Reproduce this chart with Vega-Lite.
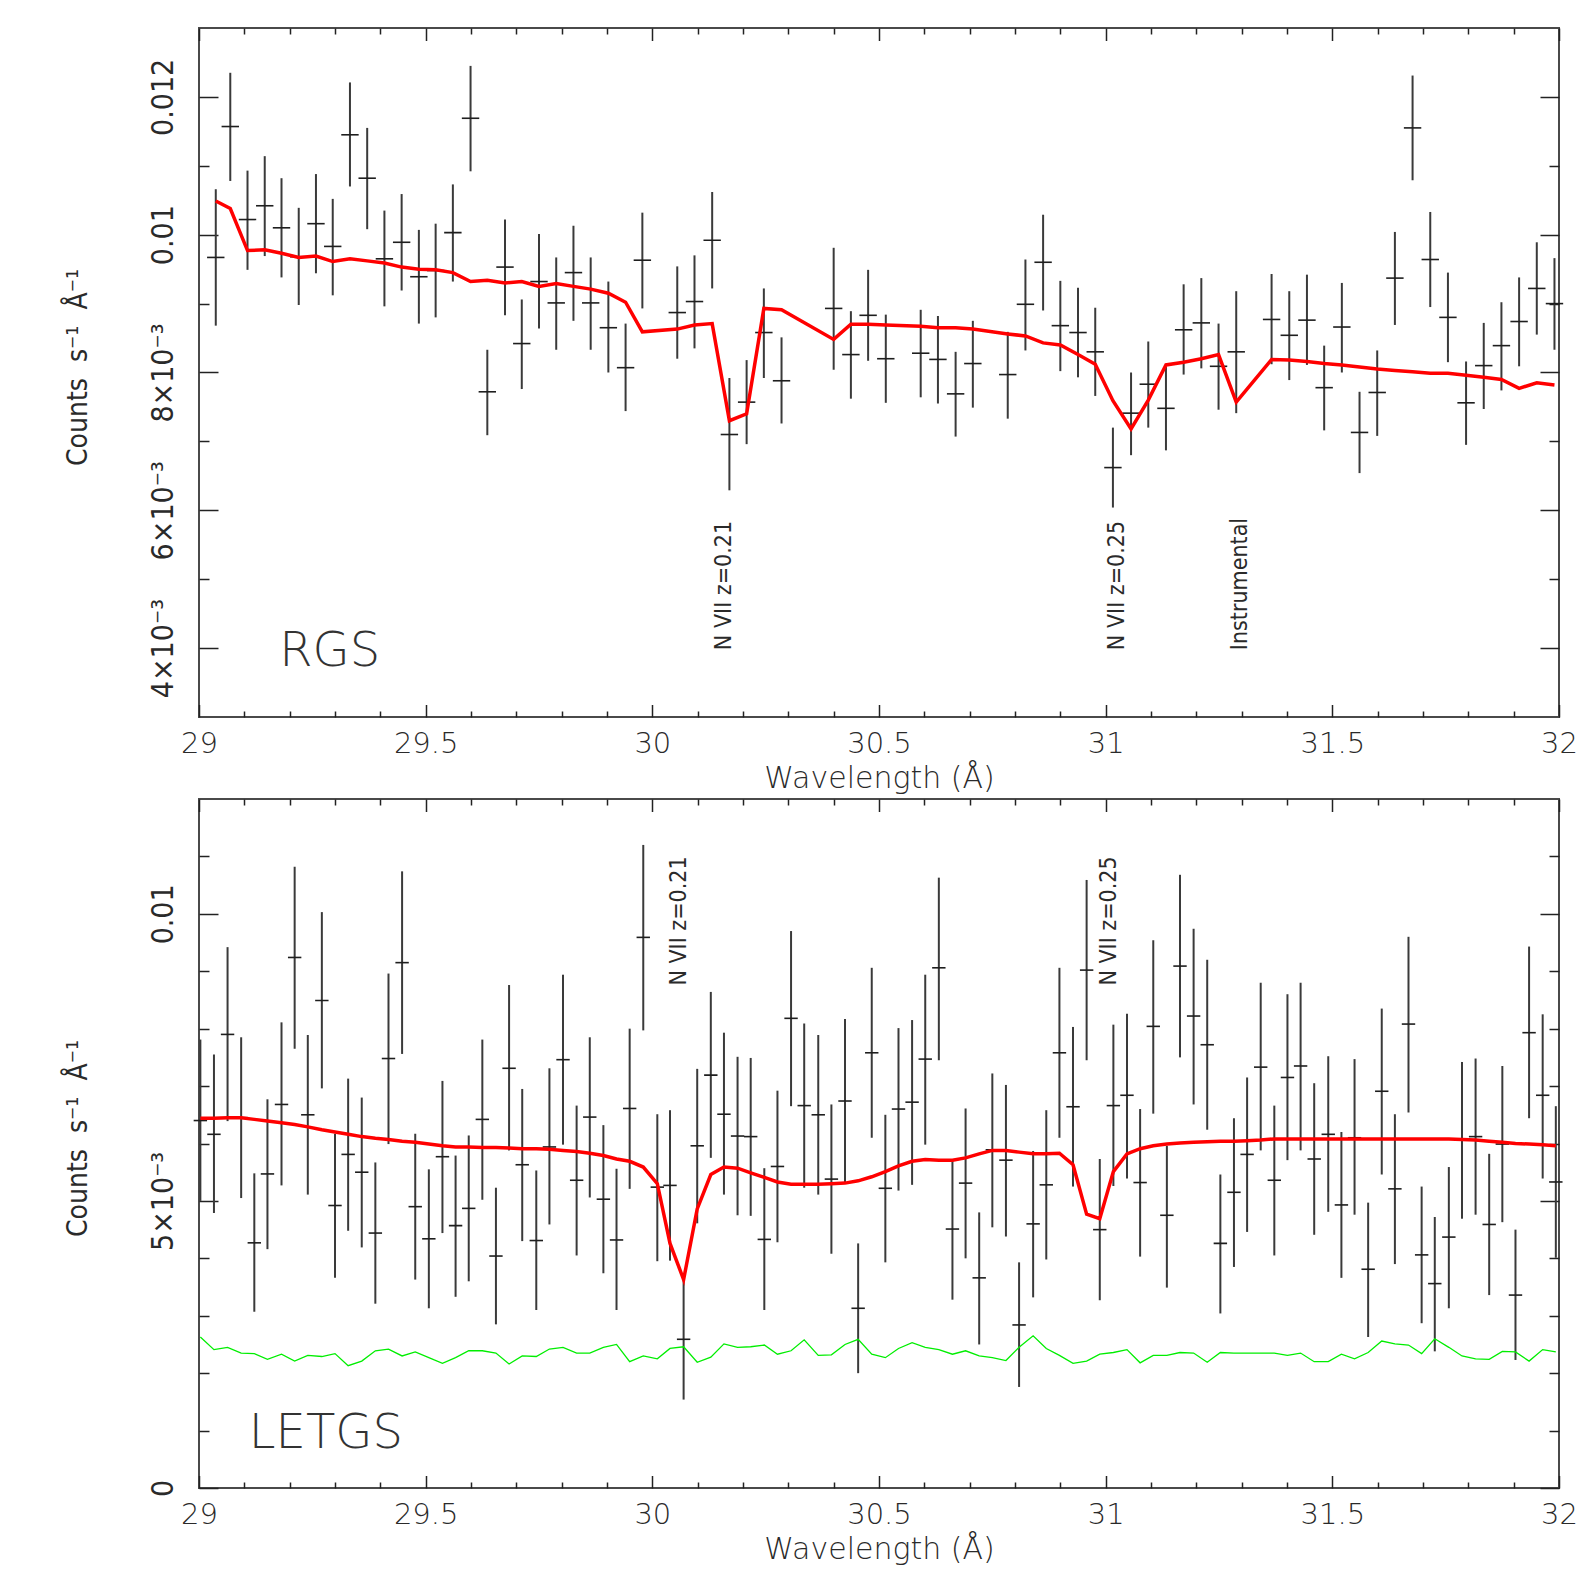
{
"$schema": "https://vega.github.io/schema/vega-lite/v6.json",
"padding": {"left": 63, "top": 26, "right": 5, "bottom": 5},
"autosize": {"type": "pad"},
"background": "white",
"bounds": "flush",
"spacing": 82,
"config": {
  "view": {"stroke": "#4a4a4a", "strokeWidth": 2},
  "axis": {"domain": false, "grid": false, "tickColor": "#222", "tickWidth": 1.5, "labelColor": "#2a2a2a", "titleColor": "#2a2a2a", "labelFlush": false, "labelOverlap": false, "labelBound": false}
},
"datasets": {
"rgs": [
{"x":29.037,"y":0.00967,"lo":0.00868,"hi":0.01066,"m":0.01049},
{"x":29.069,"y":0.01157,"lo":0.01078,"hi":0.01235,"m":0.01038},
{"x":29.107,"y":0.01022,"lo":0.00949,"hi":0.01093,"m":0.00977},
{"x":29.145,"y":0.01042,"lo":0.00969,"hi":0.01114,"m":0.00978},
{"x":29.182,"y":0.01010,"lo":0.00938,"hi":0.01082,"m":0.00973},
{"x":29.220,"y":0.00968,"lo":0.00898,"hi":0.01039,"m":0.00967},
{"x":29.258,"y":0.01016,"lo":0.00944,"hi":0.01088,"m":0.00969},
{"x":29.295,"y":0.00983,"lo":0.00912,"hi":0.01052,"m":0.00961},
{"x":29.333,"y":0.01145,"lo":0.01070,"hi":0.01221,"m":0.00965},
{"x":29.371,"y":0.01082,"lo":0.01008,"hi":0.01155,"m":0.00962},
{"x":29.409,"y":0.00965,"lo":0.00896,"hi":0.01035,"m":0.00959},
{"x":29.447,"y":0.00989,"lo":0.00919,"hi":0.01059,"m":0.00953},
{"x":29.485,"y":0.00939,"lo":0.00871,"hi":0.01007,"m":0.00950},
{"x":29.522,"y":0.00948,"lo":0.00880,"hi":0.01016,"m":0.00949},
{"x":29.560,"y":0.01003,"lo":0.00932,"hi":0.01073,"m":0.00945},
{"x":29.599,"y":0.01169,"lo":0.01092,"hi":0.01245,"m":0.00932},
{"x":29.636,"y":0.00772,"lo":0.00709,"hi":0.00833,"m":0.00934},
{"x":29.675,"y":0.00953,"lo":0.00883,"hi":0.01022,"m":0.00930},
{"x":29.712,"y":0.00842,"lo":0.00776,"hi":0.00906,"m":0.00932},
{"x":29.750,"y":0.00932,"lo":0.00864,"hi":0.01001,"m":0.00925},
{"x":29.788,"y":0.00901,"lo":0.00833,"hi":0.00967,"m":0.00929},
{"x":29.826,"y":0.00945,"lo":0.00875,"hi":0.01013,"m":0.00925},
{"x":29.864,"y":0.00901,"lo":0.00833,"hi":0.00967,"m":0.00921},
{"x":29.903,"y":0.00865,"lo":0.00800,"hi":0.00932,"m":0.00915},
{"x":29.941,"y":0.00807,"lo":0.00744,"hi":0.00871,"m":0.00902},
{"x":29.978,"y":0.00963,"lo":0.00893,"hi":0.01032,"m":0.00859},
{"x":30.055,"y":0.00887,"lo":0.00820,"hi":0.00954,"m":0.00863},
{"x":30.093,"y":0.00903,"lo":0.00835,"hi":0.00970,"m":0.00869},
{"x":30.132,"y":0.00992,"lo":0.00922,"hi":0.01062,"m":0.00871},
{"x":30.170,"y":0.00710,"lo":0.00629,"hi":0.00792,"m":0.00730},
{"x":30.208,"y":0.00757,"lo":0.00696,"hi":0.00818,"m":0.00740},
{"x":30.246,"y":0.00858,"lo":0.00792,"hi":0.00922,"m":0.00893},
{"x":30.285,"y":0.00788,"lo":0.00726,"hi":0.00851,"m":0.00891},
{"x":30.400,"y":0.00893,"lo":0.00804,"hi":0.00981,"m":0.00848},
{"x":30.438,"y":0.00826,"lo":0.00762,"hi":0.00889,"m":0.00870},
{"x":30.476,"y":0.00883,"lo":0.00817,"hi":0.00949,"m":0.00870},
{"x":30.515,"y":0.00820,"lo":0.00756,"hi":0.00884,"m":0.00869},
{"x":30.592,"y":0.00828,"lo":0.00764,"hi":0.00891,"m":0.00867},
{"x":30.630,"y":0.00819,"lo":0.00755,"hi":0.00882,"m":0.00865},
{"x":30.669,"y":0.00769,"lo":0.00707,"hi":0.00830,"m":0.00865},
{"x":30.707,"y":0.00813,"lo":0.00749,"hi":0.00875,"m":0.00863},
{"x":30.784,"y":0.00797,"lo":0.00733,"hi":0.00859,"m":0.00856},
{"x":30.823,"y":0.00899,"lo":0.00832,"hi":0.00964,"m":0.00853},
{"x":30.862,"y":0.00960,"lo":0.00890,"hi":0.01029,"m":0.00843},
{"x":30.900,"y":0.00868,"lo":0.00802,"hi":0.00933,"m":0.00840},
{"x":30.939,"y":0.00858,"lo":0.00793,"hi":0.00923,"m":0.00826},
{"x":30.977,"y":0.00830,"lo":0.00766,"hi":0.00894,"m":0.00812},
{"x":31.016,"y":0.00662,"lo":0.00604,"hi":0.00720,"m":0.00759},
{"x":31.056,"y":0.00741,"lo":0.00680,"hi":0.00800,"m":0.00718},
{"x":31.094,"y":0.00783,"lo":0.00720,"hi":0.00845,"m":0.00760},
{"x":31.133,"y":0.00748,"lo":0.00687,"hi":0.00808,"m":0.00811},
{"x":31.172,"y":0.00862,"lo":0.00797,"hi":0.00928,"m":0.00815},
{"x":31.211,"y":0.00872,"lo":0.00806,"hi":0.00937,"m":0.00820},
{"x":31.249,"y":0.00809,"lo":0.00746,"hi":0.00871,"m":0.00826},
{"x":31.288,"y":0.00830,"lo":0.00741,"hi":0.00918,"m":0.00757},
{"x":31.366,"y":0.00877,"lo":0.00812,"hi":0.00943,"m":0.00819},
{"x":31.405,"y":0.00854,"lo":0.00789,"hi":0.00918,"m":0.00818},
{"x":31.444,"y":0.00876,"lo":0.00811,"hi":0.00942,"m":0.00816},
{"x":31.482,"y":0.00778,"lo":0.00716,"hi":0.00839,"m":0.00813},
{"x":31.521,"y":0.00866,"lo":0.00800,"hi":0.00930,"m":0.00811},
{"x":31.560,"y":0.00713,"lo":0.00654,"hi":0.00772,"m":0.00808},
{"x":31.599,"y":0.00771,"lo":0.00708,"hi":0.00832,"m":0.00805},
{"x":31.638,"y":0.00937,"lo":0.00869,"hi":0.01004,"m":0.00803},
{"x":31.677,"y":0.01155,"lo":0.01079,"hi":0.01231,"m":0.00801},
{"x":31.716,"y":0.00964,"lo":0.00895,"hi":0.01033,"m":0.00799},
{"x":31.755,"y":0.00880,"lo":0.00815,"hi":0.00945,"m":0.00799},
{"x":31.795,"y":0.00756,"lo":0.00695,"hi":0.00816,"m":0.00796},
{"x":31.834,"y":0.00810,"lo":0.00747,"hi":0.00872,"m":0.00793},
{"x":31.873,"y":0.00839,"lo":0.00774,"hi":0.00902,"m":0.00790},
{"x":31.912,"y":0.00874,"lo":0.00809,"hi":0.00938,"m":0.00777},
{"x":31.951,"y":0.00922,"lo":0.00855,"hi":0.00989,"m":0.00785},
{"x":31.990,"y":0.00900,"lo":0.00833,"hi":0.00966,"m":0.00782}
],
"letgs": [
{"x":29.003,"y":0.00640,"lo":0.00500,"hi":0.00781,"m":0.00644,"bg":0.00263},
{"x":29.033,"y":0.00616,"lo":0.00479,"hi":0.00755,"m":0.00644,"bg":0.00241},
{"x":29.063,"y":0.00790,"lo":0.00639,"hi":0.00942,"m":0.00645,"bg":0.00245},
{"x":29.093,"y":0.00645,"lo":0.00505,"hi":0.00785,"m":0.00645,"bg":0.00235},
{"x":29.122,"y":0.00427,"lo":0.00307,"hi":0.00548,"m":0.00642,"bg":0.00234},
{"x":29.151,"y":0.00547,"lo":0.00416,"hi":0.00677,"m":0.00639,"bg":0.00224},
{"x":29.182,"y":0.00668,"lo":0.00527,"hi":0.00811,"m":0.00636,"bg":0.00233},
{"x":29.211,"y":0.00924,"lo":0.00765,"hi":0.01082,"m":0.00633,"bg":0.00221},
{"x":29.240,"y":0.00650,"lo":0.00511,"hi":0.00789,"m":0.00629,"bg":0.00231},
{"x":29.271,"y":0.00849,"lo":0.00696,"hi":0.01003,"m":0.00624,"bg":0.00229},
{"x":29.300,"y":0.00492,"lo":0.00366,"hi":0.00617,"m":0.00620,"bg":0.00234},
{"x":29.329,"y":0.00581,"lo":0.00448,"hi":0.00713,"m":0.00616,"bg":0.00213},
{"x":29.359,"y":0.00550,"lo":0.00419,"hi":0.00680,"m":0.00612,"bg":0.00221},
{"x":29.389,"y":0.00444,"lo":0.00321,"hi":0.00567,"m":0.00609,"bg":0.00239},
{"x":29.418,"y":0.00748,"lo":0.00599,"hi":0.00896,"m":0.00607,"bg":0.00242},
{"x":29.448,"y":0.00915,"lo":0.00756,"hi":0.01074,"m":0.00604,"bg":0.00230},
{"x":29.477,"y":0.00490,"lo":0.00363,"hi":0.00617,"m":0.00602,"bg":0.00237},
{"x":29.507,"y":0.00434,"lo":0.00313,"hi":0.00555,"m":0.00599,"bg":0.00227},
{"x":29.537,"y":0.00577,"lo":0.00444,"hi":0.00709,"m":0.00596,"bg":0.00217},
{"x":29.566,"y":0.00457,"lo":0.00333,"hi":0.00579,"m":0.00594,"bg":0.00227},
{"x":29.595,"y":0.00487,"lo":0.00360,"hi":0.00614,"m":0.00594,"bg":0.00239},
{"x":29.625,"y":0.00642,"lo":0.00502,"hi":0.00781,"m":0.00593,"bg":0.00239},
{"x":29.655,"y":0.00404,"lo":0.00285,"hi":0.00523,"m":0.00593,"bg":0.00235},
{"x":29.684,"y":0.00731,"lo":0.00588,"hi":0.00876,"m":0.00592,"bg":0.00216},
{"x":29.713,"y":0.00563,"lo":0.00430,"hi":0.00695,"m":0.00591,"bg":0.00230},
{"x":29.744,"y":0.00431,"lo":0.00310,"hi":0.00553,"m":0.00591,"bg":0.00229},
{"x":29.773,"y":0.00594,"lo":0.00459,"hi":0.00731,"m":0.00590,"bg":0.00242},
{"x":29.803,"y":0.00746,"lo":0.00598,"hi":0.00894,"m":0.00588,"bg":0.00245},
{"x":29.833,"y":0.00536,"lo":0.00405,"hi":0.00666,"m":0.00586,"bg":0.00235},
{"x":29.862,"y":0.00646,"lo":0.00506,"hi":0.00785,"m":0.00583,"bg":0.00235},
{"x":29.892,"y":0.00503,"lo":0.00374,"hi":0.00632,"m":0.00579,"bg":0.00245},
{"x":29.921,"y":0.00432,"lo":0.00310,"hi":0.00556,"m":0.00573,"bg":0.00250},
{"x":29.950,"y":0.00661,"lo":0.00521,"hi":0.00800,"m":0.00569,"bg":0.00220},
{"x":29.980,"y":0.00959,"lo":0.00797,"hi":0.01120,"m":0.00559,"bg":0.00230},
{"x":30.011,"y":0.00524,"lo":0.00395,"hi":0.00651,"m":0.00530,"bg":0.00225},
{"x":30.039,"y":0.00527,"lo":0.00396,"hi":0.00658,"m":0.00426,"bg":0.00243},
{"x":30.069,"y":0.00259,"lo":0.00154,"hi":0.00365,"m":0.00363,"bg":0.00246},
{"x":30.099,"y":0.00596,"lo":0.00461,"hi":0.00730,"m":0.00486,"bg":0.00219},
{"x":30.129,"y":0.00719,"lo":0.00575,"hi":0.00864,"m":0.00546,"bg":0.00228},
{"x":30.158,"y":0.00651,"lo":0.00511,"hi":0.00793,"m":0.00559,"bg":0.00251},
{"x":30.188,"y":0.00613,"lo":0.00475,"hi":0.00751,"m":0.00557,"bg":0.00245},
{"x":30.217,"y":0.00612,"lo":0.00474,"hi":0.00749,"m":0.00549,"bg":0.00246},
{"x":30.247,"y":0.00433,"lo":0.00310,"hi":0.00557,"m":0.00541,"bg":0.00249},
{"x":30.276,"y":0.00560,"lo":0.00428,"hi":0.00692,"m":0.00533,"bg":0.00233},
{"x":30.306,"y":0.00818,"lo":0.00665,"hi":0.00970,"m":0.00529,"bg":0.00239},
{"x":30.335,"y":0.00666,"lo":0.00523,"hi":0.00809,"m":0.00529,"bg":0.00258},
{"x":30.366,"y":0.00650,"lo":0.00511,"hi":0.00789,"m":0.00529,"bg":0.00231},
{"x":30.395,"y":0.00538,"lo":0.00408,"hi":0.00668,"m":0.00530,"bg":0.00232},
{"x":30.425,"y":0.00674,"lo":0.00532,"hi":0.00817,"m":0.00531,"bg":0.00250},
{"x":30.454,"y":0.00313,"lo":0.00200,"hi":0.00426,"m":0.00535,"bg":0.00259},
{"x":30.484,"y":0.00758,"lo":0.00610,"hi":0.00906,"m":0.00542,"bg":0.00233},
{"x":30.514,"y":0.00522,"lo":0.00393,"hi":0.00650,"m":0.00551,"bg":0.00227},
{"x":30.543,"y":0.00660,"lo":0.00518,"hi":0.00801,"m":0.00561,"bg":0.00243},
{"x":30.573,"y":0.00672,"lo":0.00528,"hi":0.00815,"m":0.00569,"bg":0.00253},
{"x":30.602,"y":0.00747,"lo":0.00598,"hi":0.00894,"m":0.00572,"bg":0.00245},
{"x":30.632,"y":0.00906,"lo":0.00745,"hi":0.01063,"m":0.00571,"bg":0.00241},
{"x":30.662,"y":0.00451,"lo":0.00328,"hi":0.00571,"m":0.00571,"bg":0.00233},
{"x":30.691,"y":0.00531,"lo":0.00400,"hi":0.00661,"m":0.00575,"bg":0.00239},
{"x":30.721,"y":0.00366,"lo":0.00250,"hi":0.00480,"m":0.00582,"bg":0.00230},
{"x":30.750,"y":0.00589,"lo":0.00454,"hi":0.00722,"m":0.00588,"bg":0.00227},
{"x":30.780,"y":0.00571,"lo":0.00438,"hi":0.00702,"m":0.00588,"bg":0.00222},
{"x":30.809,"y":0.00284,"lo":0.00176,"hi":0.00393,"m":0.00585,"bg":0.00245},
{"x":30.840,"y":0.00460,"lo":0.00332,"hi":0.00587,"m":0.00582,"bg":0.00265},
{"x":30.869,"y":0.00528,"lo":0.00398,"hi":0.00658,"m":0.00582,"bg":0.00243},
{"x":30.898,"y":0.00758,"lo":0.00610,"hi":0.00906,"m":0.00583,"bg":0.00231},
{"x":30.928,"y":0.00664,"lo":0.00525,"hi":0.00803,"m":0.00563,"bg":0.00217},
{"x":30.958,"y":0.00902,"lo":0.00745,"hi":0.01059,"m":0.00477,"bg":0.00221},
{"x":30.987,"y":0.00450,"lo":0.00327,"hi":0.00573,"m":0.00469,"bg":0.00233},
{"x":31.017,"y":0.00666,"lo":0.00526,"hi":0.00807,"m":0.00551,"bg":0.00236},
{"x":31.047,"y":0.00684,"lo":0.00539,"hi":0.00826,"m":0.00582,"bg":0.00241},
{"x":31.076,"y":0.00532,"lo":0.00403,"hi":0.00660,"m":0.00591,"bg":0.00218},
{"x":31.105,"y":0.00804,"lo":0.00652,"hi":0.00954,"m":0.00596,"bg":0.00231},
{"x":31.135,"y":0.00475,"lo":0.00349,"hi":0.00596,"m":0.00599,"bg":0.00231},
{"x":31.164,"y":0.00909,"lo":0.00750,"hi":0.01068,"m":0.00601,"bg":0.00236},
{"x":31.194,"y":0.00822,"lo":0.00668,"hi":0.00974,"m":0.00602,"bg":0.00235},
{"x":31.224,"y":0.00772,"lo":0.00624,"hi":0.00920,"m":0.00603,"bg":0.00219},
{"x":31.253,"y":0.00426,"lo":0.00304,"hi":0.00546,"m":0.00604,"bg":0.00236},
{"x":31.283,"y":0.00515,"lo":0.00385,"hi":0.00644,"m":0.00604,"bg":0.00235},
{"x":31.312,"y":0.00581,"lo":0.00446,"hi":0.00715,"m":0.00605,"bg":0.00235},
{"x":31.342,"y":0.00733,"lo":0.00588,"hi":0.00880,"m":0.00606,"bg":0.00235},
{"x":31.372,"y":0.00536,"lo":0.00405,"hi":0.00666,"m":0.00608,"bg":0.00235},
{"x":31.401,"y":0.00715,"lo":0.00571,"hi":0.00860,"m":0.00608,"bg":0.00231},
{"x":31.430,"y":0.00735,"lo":0.00588,"hi":0.00880,"m":0.00608,"bg":0.00235},
{"x":31.460,"y":0.00573,"lo":0.00441,"hi":0.00705,"m":0.00608,"bg":0.00220},
{"x":31.491,"y":0.00616,"lo":0.00481,"hi":0.00752,"m":0.00608,"bg":0.00220},
{"x":31.520,"y":0.00493,"lo":0.00366,"hi":0.00620,"m":0.00608,"bg":0.00233},
{"x":31.549,"y":0.00610,"lo":0.00476,"hi":0.00747,"m":0.00608,"bg":0.00225},
{"x":31.579,"y":0.00381,"lo":0.00263,"hi":0.00497,"m":0.00608,"bg":0.00236},
{"x":31.609,"y":0.00691,"lo":0.00546,"hi":0.00835,"m":0.00608,"bg":0.00256},
{"x":31.638,"y":0.00521,"lo":0.00390,"hi":0.00651,"m":0.00608,"bg":0.00251},
{"x":31.668,"y":0.00808,"lo":0.00654,"hi":0.00960,"m":0.00608,"bg":0.00249},
{"x":31.697,"y":0.00406,"lo":0.00287,"hi":0.00525,"m":0.00608,"bg":0.00234},
{"x":31.726,"y":0.00356,"lo":0.00238,"hi":0.00472,"m":0.00608,"bg":0.00260},
{"x":31.757,"y":0.00437,"lo":0.00313,"hi":0.00559,"m":0.00608,"bg":0.00245},
{"x":31.786,"y":0.00606,"lo":0.00469,"hi":0.00742,"m":0.00607,"bg":0.00230},
{"x":31.816,"y":0.00612,"lo":0.00476,"hi":0.00748,"m":0.00606,"bg":0.00225},
{"x":31.846,"y":0.00459,"lo":0.00336,"hi":0.00582,"m":0.00604,"bg":0.00224},
{"x":31.875,"y":0.00599,"lo":0.00463,"hi":0.00735,"m":0.00602,"bg":0.00238},
{"x":31.904,"y":0.00336,"lo":0.00223,"hi":0.00450,"m":0.00600,"bg":0.00237},
{"x":31.934,"y":0.00793,"lo":0.00644,"hi":0.00943,"m":0.00599,"bg":0.00221},
{"x":31.964,"y":0.00684,"lo":0.00539,"hi":0.00825,"m":0.00598,"bg":0.00241},
{"x":31.993,"y":0.00533,"lo":0.00401,"hi":0.00665,"m":0.00596,"bg":0.00237}
]
},
"vconcat": [
{
  "width": 1360, "height": 689,
  "resolve": {"axis": {"x": "independent", "y": "independent"}},
  "layer": [
    {"data": {"name": "rgs"},
     "mark": {"type": "rule", "color": "#3a3a3a", "strokeWidth": 2},
     "encoding": {
       "x": {"field": "x", "type": "quantitative", "scale": {"domain": [29, 32], "nice": false, "zero": false},
             "axis": {"orient": "bottom", "values": [29, 29.5, 30, 30.5, 31, 31.5, 32], "format": "~g", "tickSize": -12.5, "labelPadding": 47.5, "labelBaseline": "alphabetic", "labelAlign": "center", "labelFont": "DejaVu Sans", "labelFontSize": 29, "labelFontWeight": 200, "title": "Wavelength (Å)", "titleFont": "DejaVu Sans", "titleFontSize": 30, "titleFontWeight": 200, "titleX": 680, "titleY": 70.5, "titleAlign": "center", "titleBaseline": "alphabetic"}},
       "y": {"field": "lo", "type": "quantitative", "scale": {"domain": [0.003, 0.013], "nice": false, "zero": false},
             "axis": {"orient": "left", "values": [0.004, 0.006, 0.008, 0.01, 0.012], "tickSize": -19, "labelPadding": 45.6, "labelAngle": 270, "labelAlign": "center", "labelBaseline": "alphabetic", "labelFont": "DejaVu Sans Condensed, Liberation Sans, sans-serif", "labelFontSize": 30, "labelFontWeight": 200, "labelExpr": "datum.value == 0 ? '0' : (datum.value < 0.0095 ? round(datum.value * 1000) + '×10⁻³' : format(datum.value, '~g'))", "title": "Counts\u00a0\u00a0s⁻¹\u00a0\u00a0Å⁻¹", "titleFont": "DejaVu Sans Condensed, Liberation Sans, sans-serif", "titleFontSize": 28, "titleFontWeight": 200, "titleAngle": 270, "titleX": -113, "titleY": 339, "titleAlign": "center", "titleBaseline": "alphabetic"}},
       "y2": {"field": "hi"}
     }},
    {"data": {"name": "rgs"},
     "mark": {"type": "tick", "orient": "horizontal", "size": 17.4, "thickness": 1.6, "color": "#1e1e1e", "opacity": 1},
     "encoding": {
       "x": {"field": "x", "type": "quantitative", "scale": {"domain": [29, 32], "nice": false, "zero": false},
             "axis": {"orient": "bottom", "values": [29.1,29.2,29.3,29.4,29.6,29.7,29.8,29.9,30.1,30.2,30.3,30.4,30.6,30.7,30.8,30.9,31.1,31.2,31.3,31.4,31.6,31.7,31.8,31.9], "tickSize": -6, "labels": false, "title": null}},
       "y": {"field": "y", "type": "quantitative", "scale": {"domain": [0.003, 0.013], "nice": false, "zero": false},
             "axis": {"orient": "left", "values": [0.005, 0.007, 0.009, 0.011], "tickSize": -10, "labels": false, "title": null}}
     }},
    {"data": {"name": "rgs"},
     "mark": {"type": "line", "color": "#ff0000", "strokeWidth": 3.5},
     "encoding": {
       "x": {"field": "x", "type": "quantitative", "scale": {"domain": [29, 32], "nice": false, "zero": false},
             "axis": {"orient": "top", "values": [29, 29.5, 30, 30.5, 31, 31.5, 32], "tickSize": -12.5, "labels": false, "title": null}},
       "y": {"field": "m", "type": "quantitative", "scale": {"domain": [0.003, 0.013], "nice": false, "zero": false},
             "axis": {"orient": "right", "values": [0.004, 0.006, 0.008, 0.01, 0.012], "tickSize": -19, "labels": false, "title": null}}
     }},
    {"data": {"values": [
       {"x": 30.158, "y": 0.00397, "t": "N VII z=0.21"},
       {"x": 31.024, "y": 0.00397, "t": "N VII z=0.25"},
       {"x": 31.297, "y": 0.00397, "t": "Instrumental"}]},
     "mark": {"type": "text", "angle": 270, "align": "left", "baseline": "middle", "font": "DejaVu Sans Condensed, Liberation Sans, sans-serif", "fontSize": 23, "fontWeight": 200, "color": "#2a2a2a"},
     "encoding": {
       "x": {"field": "x", "type": "quantitative", "scale": {"domain": [29, 32], "nice": false, "zero": false},
             "axis": {"orient": "top", "values": [29.1,29.2,29.3,29.4,29.6,29.7,29.8,29.9,30.1,30.2,30.3,30.4,30.6,30.7,30.8,30.9,31.1,31.2,31.3,31.4,31.6,31.7,31.8,31.9], "tickSize": -6, "labels": false, "title": null}},
       "y": {"field": "y", "type": "quantitative", "scale": {"domain": [0.003, 0.013], "nice": false, "zero": false},
             "axis": {"orient": "right", "values": [0.005, 0.007, 0.009, 0.011], "tickSize": -10, "labels": false, "title": null}},
       "text": {"field": "t"}
     }},
    {"data": {"values": [{"x": 29.177, "y": 0.003744, "t": "RGS"}]},
     "mark": {"type": "text", "align": "left", "baseline": "alphabetic", "font": "DejaVu Sans", "fontSize": 48, "fontWeight": 200, "color": "#333"},
     "encoding": {
       "x": {"field": "x", "type": "quantitative", "scale": {"domain": [29, 32], "nice": false, "zero": false}, "axis": null},
       "y": {"field": "y", "type": "quantitative", "scale": {"domain": [0.003, 0.013], "nice": false, "zero": false}, "axis": null},
       "text": {"field": "t"}
     }}
  ]
},
{
  "width": 1360, "height": 689,
  "resolve": {"axis": {"x": "independent", "y": "independent"}},
  "layer": [
    {"data": {"name": "letgs"},
     "mark": {"type": "rule", "color": "#3a3a3a", "strokeWidth": 2},
     "encoding": {
       "x": {"field": "x", "type": "quantitative", "scale": {"domain": [29, 32], "nice": false, "zero": false},
             "axis": {"orient": "bottom", "values": [29, 29.5, 30, 30.5, 31, 31.5, 32], "format": "~g", "tickSize": -12.5, "labelPadding": 47.5, "labelBaseline": "alphabetic", "labelAlign": "center", "labelFont": "DejaVu Sans", "labelFontSize": 29, "labelFontWeight": 200, "title": "Wavelength (Å)", "titleFont": "DejaVu Sans", "titleFontSize": 30, "titleFontWeight": 200, "titleX": 680, "titleY": 70.5, "titleAlign": "center", "titleBaseline": "alphabetic"}},
       "y": {"field": "lo", "type": "quantitative", "scale": {"domain": [0, 0.012], "nice": false, "zero": false},
             "axis": {"orient": "left", "values": [0, 0.005, 0.01], "tickSize": -19, "labelPadding": 45.6, "labelAngle": 270, "labelAlign": "center", "labelBaseline": "alphabetic", "labelFont": "DejaVu Sans Condensed, Liberation Sans, sans-serif", "labelFontSize": 30, "labelFontWeight": 200, "labelExpr": "datum.value == 0 ? '0' : (datum.value < 0.0095 ? round(datum.value * 1000) + '×10⁻³' : format(datum.value, '~g'))", "title": "Counts\u00a0\u00a0s⁻¹\u00a0\u00a0Å⁻¹", "titleFont": "DejaVu Sans Condensed, Liberation Sans, sans-serif", "titleFontSize": 28, "titleFontWeight": 200, "titleAngle": 270, "titleX": -113, "titleY": 339, "titleAlign": "center", "titleBaseline": "alphabetic"}},
       "y2": {"field": "hi"}
     }},
    {"data": {"name": "letgs"},
     "mark": {"type": "tick", "orient": "horizontal", "size": 13.4, "thickness": 1.6, "color": "#1e1e1e", "opacity": 1},
     "encoding": {
       "x": {"field": "x", "type": "quantitative", "scale": {"domain": [29, 32], "nice": false, "zero": false},
             "axis": {"orient": "bottom", "values": [29.1,29.2,29.3,29.4,29.6,29.7,29.8,29.9,30.1,30.2,30.3,30.4,30.6,30.7,30.8,30.9,31.1,31.2,31.3,31.4,31.6,31.7,31.8,31.9], "tickSize": -6, "labels": false, "title": null}},
       "y": {"field": "y", "type": "quantitative", "scale": {"domain": [0, 0.012], "nice": false, "zero": false},
             "axis": {"orient": "left", "values": [0.001, 0.002, 0.003, 0.004, 0.006, 0.007, 0.008, 0.009, 0.011], "tickSize": -10, "labels": false, "title": null}}
     }},
    {"data": {"name": "letgs"},
     "mark": {"type": "line", "color": "#00ee00", "strokeWidth": 1.3},
     "encoding": {
       "x": {"field": "x", "type": "quantitative", "scale": {"domain": [29, 32], "nice": false, "zero": false}, "axis": null},
       "y": {"field": "bg", "type": "quantitative", "scale": {"domain": [0, 0.012], "nice": false, "zero": false}, "axis": null}
     }},
    {"data": {"name": "letgs"},
     "mark": {"type": "line", "color": "#ff0000", "strokeWidth": 3.5},
     "encoding": {
       "x": {"field": "x", "type": "quantitative", "scale": {"domain": [29, 32], "nice": false, "zero": false},
             "axis": {"orient": "top", "values": [29, 29.5, 30, 30.5, 31, 31.5, 32], "tickSize": -12.5, "labels": false, "title": null}},
       "y": {"field": "m", "type": "quantitative", "scale": {"domain": [0, 0.012], "nice": false, "zero": false},
             "axis": {"orient": "right", "values": [0, 0.005, 0.01], "tickSize": -19, "labels": false, "title": null}}
     }},
    {"data": {"values": [
       {"x": 30.058, "y": 0.00875, "t": "N VII z=0.21"},
       {"x": 31.008, "y": 0.00875, "t": "N VII z=0.25"}]},
     "mark": {"type": "text", "angle": 270, "align": "left", "baseline": "middle", "font": "DejaVu Sans Condensed, Liberation Sans, sans-serif", "fontSize": 23, "fontWeight": 200, "color": "#2a2a2a"},
     "encoding": {
       "x": {"field": "x", "type": "quantitative", "scale": {"domain": [29, 32], "nice": false, "zero": false},
             "axis": {"orient": "top", "values": [29.1,29.2,29.3,29.4,29.6,29.7,29.8,29.9,30.1,30.2,30.3,30.4,30.6,30.7,30.8,30.9,31.1,31.2,31.3,31.4,31.6,31.7,31.8,31.9], "tickSize": -6, "labels": false, "title": null}},
       "y": {"field": "y", "type": "quantitative", "scale": {"domain": [0, 0.012], "nice": false, "zero": false},
             "axis": {"orient": "right", "values": [0.001, 0.002, 0.003, 0.004, 0.006, 0.007, 0.008, 0.009, 0.011], "tickSize": -10, "labels": false, "title": null}},
       "text": {"field": "t"}
     }},
    {"data": {"values": [{"x": 29.110, "y": 0.000698, "t": "LETGS"}]},
     "mark": {"type": "text", "align": "left", "baseline": "alphabetic", "font": "DejaVu Sans", "fontSize": 48, "fontWeight": 200, "color": "#333"},
     "encoding": {
       "x": {"field": "x", "type": "quantitative", "scale": {"domain": [29, 32], "nice": false, "zero": false}, "axis": null},
       "y": {"field": "y", "type": "quantitative", "scale": {"domain": [0, 0.012], "nice": false, "zero": false}, "axis": null},
       "text": {"field": "t"}
     }}
  ]
}
]
}
